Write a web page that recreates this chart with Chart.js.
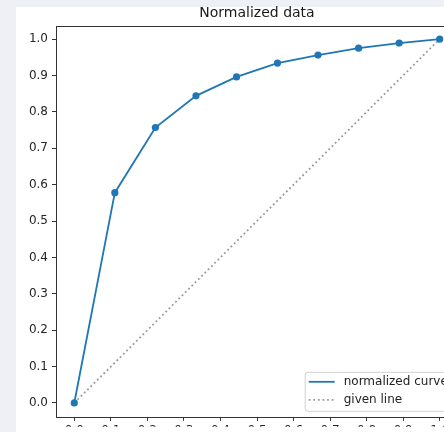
<!DOCTYPE html>
<html>
<head>
<meta charset="utf-8">
<script src="https://cdn.jsdelivr.net/npm/chart.js@4"></script>
<style>
  html, body { margin: 0; padding: 0; width: 444px; height: 432px; overflow: hidden; background: #eef0f5; }
  #paper { position: absolute; left: 16px; top: 7px; width: 520px; height: 430px; background: #fff; }
  canvas { position: absolute; left: 0; top: 0; }
</style>
</head>
<body>
<div id="paper"></div>
<canvas id="normChart" width="514" height="428"></canvas>
<script>
// data
const xValues = [0, 0.111, 0.222, 0.333, 0.444, 0.556, 0.667, 0.778, 0.889, 1.0];
const curveValues = [0.0, 0.578, 0.757, 0.844, 0.896, 0.934, 0.956, 0.975, 0.989, 1.0];
const givenX = [0, 1];
const givenY = [0, 1];
const tickValues = [0, 0.1, 0.2, 0.3, 0.4, 0.5, 0.6, 0.7, 0.8, 0.9, 1.0];

const FONT = "'DejaVu Sans', sans-serif";

// figure background: grey strip left/top, white figure behind the axes
const figureBg = {
    id: 'figureBg',
    beforeDraw(chart) {
        const c = chart.ctx;
        c.save();
        c.fillStyle = '#eef0f5';
        c.fillRect(0, 0, chart.width, chart.height);
        c.fillStyle = '#ffffff';
        c.fillRect(16, 7, chart.width - 16, chart.height - 7);
        c.restore();
    }
};

// spines + matplotlib style legend in lower right
const frameAndLegend = {
    id: 'frameAndLegend',
    afterDraw(chart) {
        const c = chart.ctx;
        const a = chart.chartArea;
        c.save();
        c.strokeStyle = '#333';
        c.lineWidth = 1;
        c.strokeRect(Math.round(a.left) + 0.5, Math.round(a.top) + 0.5,
                     Math.round(a.right - a.left), Math.round(a.bottom - a.top));

        const sets = chart.data.datasets;
        c.font = '12px ' + FONT;
        let textW = 0;
        sets.forEach(ds => { textW = Math.max(textW, c.measureText(ds.label).width); });
        const right = a.right - 6;
        const bottom = a.bottom - 6;
        const w = 4.8 + 24 + 9.6 + textW + 4.8;
        const left = right - w;
        const rowGap = 18;
        const top = bottom - 11 - rowGap * (sets.length - 1) - 10;

        c.beginPath();
        c.roundRect(left + 0.5, top + 0.5, w, bottom - top, 3);
        c.fillStyle = 'rgba(255,255,255,0.85)';
        c.fill();
        c.strokeStyle = '#d0d0d0';
        c.lineWidth = 1;
        c.stroke();

        sets.forEach((ds, i) => {
            const y = top + 10 + i * rowGap;
            c.beginPath();
            c.setLineDash(ds.borderDash || []);
            c.strokeStyle = ds.borderColor;
            c.lineWidth = ds.borderWidth;
            c.moveTo(left + 4, y);
            c.lineTo(left + 30, y);
            c.stroke();
            c.setLineDash([]);
            c.fillStyle = '#222';
            c.textBaseline = 'middle';
            c.textAlign = 'left';
            c.fillText(ds.label, left + 39, y);
        });
        c.restore();
    }
};

const ctx = document.getElementById('normChart').getContext('2d');
new Chart(ctx, {
    type: 'line',
    data: {
        datasets: [{
            label: 'normalized curve',
            data: xValues.map((x, i) => ({ x: x, y: curveValues[i] })),
            borderColor: '#1f77b4',
            backgroundColor: '#1f77b4',
            borderWidth: 1.8,
            pointRadius: 3.6,
            pointBorderWidth: 0,
            pointBackgroundColor: '#1f77b4',
            tension: 0
        }, {
            label: 'given line',
            data: givenX.map((x, i) => ({ x: x, y: givenY[i] })),
            borderColor: '#999999',
            borderWidth: 1.8,
            borderDash: [1.8, 2.8],
            pointRadius: 0,
            tension: 0
        }]
    },
    options: {
        responsive: false,
        animation: false,
        events: [],
        layout: { padding: 0 },
        scales: {
            x: {
                type: 'linear',
                min: -0.05,
                max: 1.05,
                afterBuildTicks: axis => { axis.ticks = tickValues.map(v => ({ value: v })); },
                afterFit: axis => { axis.height = 10; },
                grid: { drawOnChartArea: false, tickLength: 4, tickColor: '#333', tickWidth: 1 },
                border: { display: false },
                ticks: {
                    padding: 3,
                    color: '#262626',
                    font: { family: FONT, size: 12 },
                    callback: v => v.toFixed(1)
                }
            },
            y: {
                type: 'linear',
                min: -0.038,
                max: 1.036,
                afterBuildTicks: axis => { axis.ticks = tickValues.map(v => ({ value: v })); },
                afterFit: axis => { axis.width = 56; },
                grid: { drawOnChartArea: false, tickLength: 4, tickColor: '#333', tickWidth: 1 },
                border: { display: false },
                ticks: {
                    padding: 4,
                    color: '#262626',
                    font: { family: FONT, size: 12 },
                    callback: v => v.toFixed(1)
                }
            },
            // empty right margin so the title centres over the axes like matplotlib
            yRight: {
                type: 'linear',
                position: 'right',
                afterFit: axis => { axis.width = 56; },
                grid: { display: false },
                border: { display: false },
                ticks: { display: false }
            }
        },
        plugins: {
            legend: { display: false },
            tooltip: { enabled: false },
            title: {
                display: true,
                text: 'Normalized data',
                color: '#1a1a1a',
                font: { family: FONT, size: 14, weight: 'normal', lineHeight: 1.2 },
                padding: { top: 5.4, bottom: 3.8 }
            }
        }
    },
    plugins: [figureBg, frameAndLegend]
});
</script>
</body>
</html>
